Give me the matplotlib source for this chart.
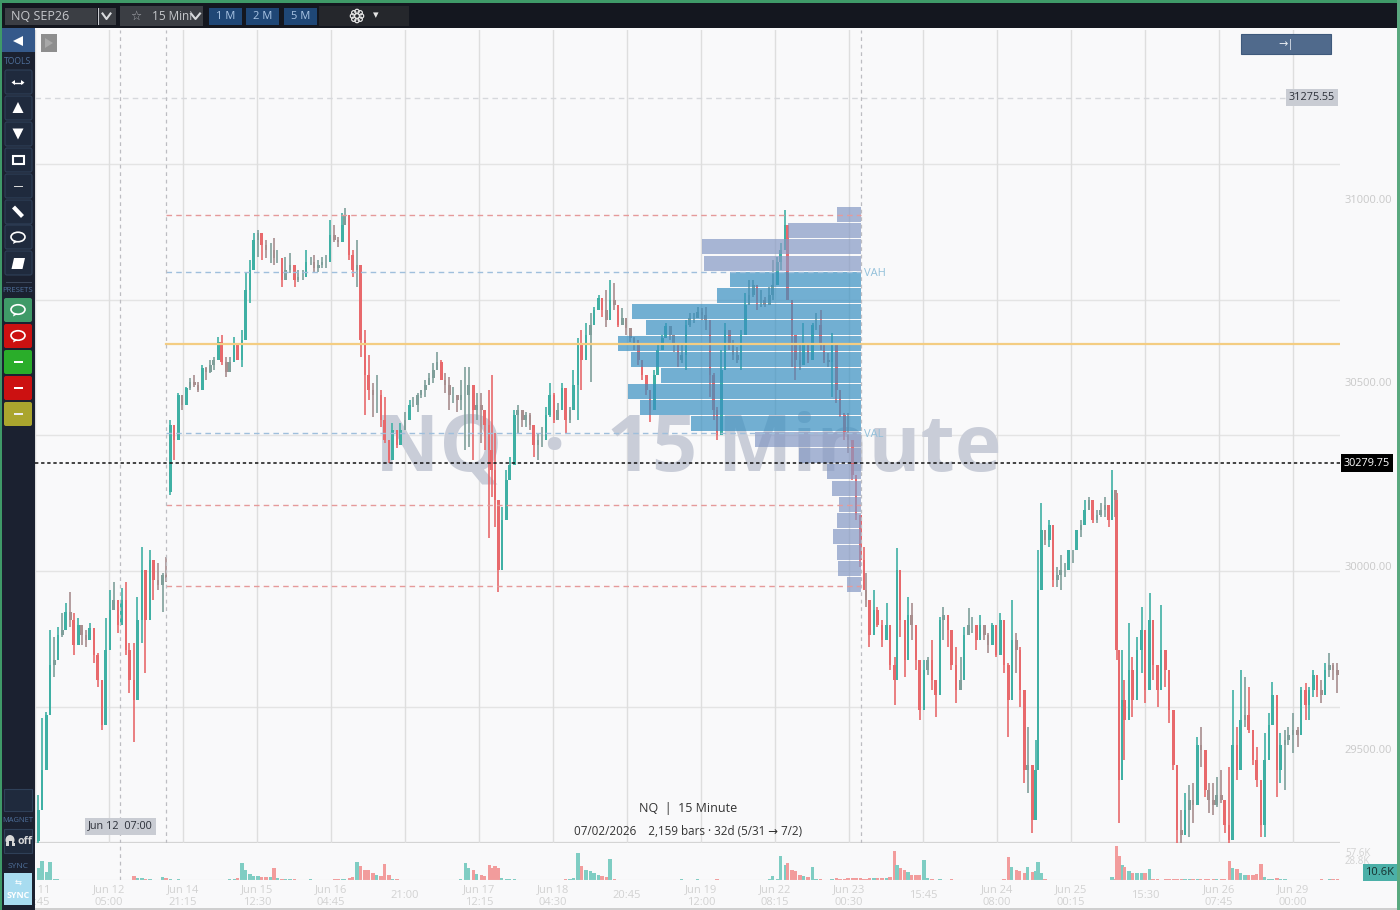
import numpy as np
import matplotlib
matplotlib.use("Agg")
import matplotlib.pyplot as plt
from matplotlib.patches import Rectangle, FancyBboxPatch, Ellipse, Polygon, Circle

plt.rcParams['font.family'] = ['Open Sans', 'DejaVu Sans']

# 15 minute bars, sampled along the chart
bar_no = [3,6,10,13,17,20,24,27,31,34,38,41,45,48,52,55,59,62,66,69,
	73,76,80,83,87,90,94,97,101,104,108,112,115,119,122,126,129,133,136,140,
	143,147,150,154,157,161,164,168,171,175,178,182,185,189,192,196,199,203,207,210,
	213,217,220,224,228,231,235,238,242,245,249,252,256,259,263,266,270,272,276,279,
	283,286,290,293,297,300,304,307,311,314,318,321,325,329,332,336,339,343,346,350,
	353,357,360,364,367,371,374,378,381,385,388,392,395,399,401,404,407,410,414,417,
	421,424,428,431,435,438,442,445,449,452,456,459,463,466,470,473,477,480,484,488,
	491,495,498,502,505,509,512,516,519,523,526,530,533,537,540,544,547,551,554,558,
	561,565,568,572,575,579,582,586,589,593,596,599,603,606,610,613,617,620,624,627,
	631,634,638,641,645,648,652,655,659,661,665,668,672,675,679,683,686,690,693,697,
	700,704,707,711,714,718,721,725,728,730,733,737,740,744,748,751,755,757,760,764,
	767,770,774,777,781,784,788,791,795,798,802,805,809,813,816,820,823,827,830,834,
	837,841,844,848,851,855,858,862,865,869,872,876,879,881,884,887,891,894,898,901,
	905,908,912,915,919,922,926,929,933,936,940,943,946,949,950,952,955,957,961,964,
	968,972,975,979,982,986,989,993,996,1000,1003,1007,1010,1014,1017,1021,1024,1028,1031,1035,
	1038,1042,1045,1049,1052,1056,1059,1063,1066,1070,1073,1077,1080,1084,1087,1091,1094,1098,1101,1105,
	1109,1112,1116,1119,1123,1126,1130,1133,1137,1140,1144]

closes = [29335,29444,29593,29730,29743,29811,29825,29874,29852,29784,29839,29811,29798,29831,29757,29689,29566,29771,29880,29907,
	29839,29907,29771,29689,29634,29852,29989,29852,30016,29961,29948,29975,29967,30384,30343,30466,30438,30485,30501,30493,
	30479,30539,30528,30547,30561,30610,30556,30528,30556,30602,30561,30616,30752,30806,30888,30907,30875,30861,30861,30839,
	30839,30779,30806,30820,30779,30787,30787,30828,30828,30812,30820,30828,30828,30902,30888,30883,30929,30956,30847,30806,
	30820,30616,30520,30479,30466,30466,30398,30343,30289,30370,30329,30370,30398,30438,30438,30466,30479,30493,30512,30534,
	30556,30507,30493,30466,30466,30452,30466,30466,30493,30425,30438,30425,30384,30316,30261,30180,29989,30125,30234,30275,
	30411,30425,30398,30411,30384,30329,30343,30343,30411,30466,30398,30425,30485,30398,30425,30493,30602,30561,30629,30657,
	30697,30730,30697,30670,30725,30711,30657,30676,30648,30621,30602,30561,30520,30479,30425,30520,30588,30621,30654,30629,
	30602,30561,30575,30657,30676,30676,30692,30684,30670,30520,30425,30357,30534,30643,30602,30575,30561,30629,30711,30738,
	30766,30725,30725,30711,30738,30766,30828,30861,30929,30725,30629,30561,30547,30602,30561,30657,30657,30602,30561,30556,
	30602,30479,30411,30365,30343,30248,30139,30016,29934,29907,29811,29880,29839,29798,29839,29730,29689,29989,29852,29743,
	29866,29839,29743,29607,29716,29743,29689,29648,29852,29866,29825,29730,29662,29689,29811,29839,29839,29798,29839,29811,
	29784,29839,29757,29852,29730,29634,29798,29771,29662,29444,29457,29307,29444,29934,30098,30070,30111,29961,29975,29989,
	29989,30043,30043,30098,30111,30152,30180,30125,30139,30152,30166,30125,30207,30180,29771,29416,29634,29580,29716,29634,
	29771,29825,29662,29852,29730,29662,29771,29716,29607,29457,29280,29266,29335,29362,29348,29512,29498,29389,29362,29348,
	29375,29362,29294,29253,29512,29444,29580,29593,29553,29471,29416,29294,29471,29566,29648,29444,29512,29525,29539,29553,
	29539,29662,29621,29662,29703,29662,29648,29716,29730,29716,29703]

highs = [29375,29585,29602,29825,29806,29833,29871,29899,29929,29871,29858,29839,29825,29844,29806,29762,29662,29858,29934,29956,
	29907,29940,29956,29790,29790,29915,30052,29961,30043,30016,30008,29980,30024,30398,30370,30471,30460,30488,30512,30520,
	30501,30548,30542,30561,30569,30624,30629,30569,30569,30624,30607,30643,30801,30834,30907,30916,30894,30888,30880,30894,
	30861,30826,30842,30853,30806,30806,30806,30861,30842,30847,30834,30842,30847,30943,30929,30896,30962,30975,30956,30861,
	30888,30717,30643,30575,30498,30520,30479,30460,30324,30389,30370,30389,30419,30452,30460,30471,30479,30507,30526,30553,
	30583,30561,30526,30515,30488,30452,30507,30542,30542,30471,30471,30471,30417,30479,30520,30362,30070,30160,30261,30297,
	30425,30439,30419,30419,30417,30378,30362,30378,30433,30498,30471,30444,30498,30471,30433,30534,30621,30643,30662,30689,
	30706,30738,30717,30752,30779,30771,30697,30703,30665,30643,30624,30616,30542,30507,30458,30534,30607,30629,30662,30651,
	30624,30580,30607,30670,30689,30689,30706,30703,30706,30624,30526,30433,30588,30662,30635,30616,30597,30643,30744,30779,
	30779,30752,30752,30733,30760,30834,30842,30880,30970,30929,30678,30597,30607,30662,30607,30662,30689,30697,30588,30580,
	30635,30561,30460,30417,30417,30324,30215,30106,30052,29980,29861,29934,29888,29852,29899,29779,29751,30049,29934,29817,
	29915,29899,29752,29642,29743,29752,29798,29689,29861,29888,29852,29825,29779,29751,29833,29885,29861,29825,29866,29833,
	29817,29844,29798,29871,29844,29735,29907,29817,29779,29572,29561,29444,29525,30043,30171,30090,30125,30098,29997,30030,
	30008,30043,30043,30098,30125,30180,30188,30180,30152,30171,30188,30160,30261,30207,30199,29697,29771,29689,29844,29751,
	29806,29888,29689,29926,29779,29670,29893,29771,29670,29517,29343,29335,29381,29403,29408,29533,29561,29471,29408,29408,
	29425,29444,29343,29452,29662,29561,29716,29697,29670,29544,29506,29381,29544,29599,29683,29561,29544,29553,29561,29599,
	29561,29670,29681,29670,29716,29697,29689,29735,29762,29735,29735]

lows = [29230,29353,29457,29634,29697,29779,29806,29825,29833,29757,29790,29784,29779,29798,29735,29670,29553,29662,29771,29893,
	29817,29880,29757,29653,29520,29648,29790,29708,29948,29907,29934,29874,29956,30193,30289,30343,30425,30444,30479,30488,
	30474,30512,30507,30526,30534,30569,30547,30515,30542,30569,30561,30542,30678,30717,30828,30842,30834,30839,30826,30820,
	30826,30760,30798,30798,30760,30774,30779,30787,30820,30798,30801,30812,30812,30861,30883,30869,30896,30932,30834,30787,
	30760,30569,30411,30452,30406,30417,30378,30335,30280,30316,30321,30335,30370,30419,30433,30419,30458,30460,30498,30498,
	30542,30507,30471,30425,30444,30419,30425,30316,30324,30289,30398,30335,30316,30076,30188,30106,29929,30098,30199,30261,
	30362,30362,30378,30378,30370,30297,30289,30324,30351,30406,30389,30398,30433,30362,30389,30425,30398,30479,30602,30501,
	30662,30697,30678,30651,30706,30697,30651,30665,30629,30610,30588,30547,30507,30466,30392,30474,30534,30597,30624,30616,
	30583,30542,30553,30534,30651,30662,30678,30670,30643,30460,30398,30343,30507,30616,30588,30561,30553,30534,30662,30717,
	30733,30697,30706,30706,30717,30725,30806,30806,30896,30725,30542,30507,30534,30588,30553,30569,30643,30588,30553,30542,
	30460,30444,30406,30343,30308,30234,30125,29997,29934,29888,29779,29861,29833,29779,29811,29716,29621,29934,29806,29697,
	29833,29798,29716,29580,29642,29702,29662,29588,29743,29798,29779,29716,29626,29662,29779,29811,29817,29771,29798,29798,
	29762,29798,29752,29779,29708,29533,29697,29708,29615,29408,29381,29272,29370,29533,30057,30057,30051,29942,29942,29934,
	29970,29997,30008,30051,30079,30117,30152,30117,30117,30133,30133,30106,30125,30133,29743,29299,29561,29471,29653,29588,
	29681,29708,29626,29743,29689,29615,29670,29670,29572,29444,29244,29235,29280,29261,29299,29444,29452,29370,29326,29321,
	29343,29354,29272,29235,29498,29416,29498,29561,29544,29457,29397,29261,29261,29553,29634,29370,29408,29389,29512,29490,
	29506,29572,29580,29580,29642,29642,29626,29697,29697,29689,29653]

# volume in thousands
volumes = [20,32,14,31,2,1,0.5,0.4,0.5,0.6,0.4,0.3,0.5,0.4,0.6,0.5,0.4,0.3,0.6,0.5,
	0.5,0.4,0.6,0.7,7,4,3,2,1,0.6,0.5,5,3,1,0.6,2,0.6,0.5,0.4,0.5,
	0.4,0.5,0.4,0.5,0.4,0.5,0.6,0.8,1.5,2,3,29,17,11,7,7,5,5,5,20,
	3,1.5,1,1.5,1,0.6,0.7,0.8,0.9,0.7,0.8,0.6,0.7,0.8,0.9,0.9,1,1,3,5,
	31,24,17,17,12,8,7,27,8,2,1,0.8,0.7,0.6,0.5,0.6,0.5,0.6,0.5,0.7,
	0.6,0.5,0.6,0.5,0.7,0.8,1,29,20,17,10,8,7,25,20,24,20,3,2,1,
	2,0.7,0.6,0.5,0.5,0.6,0.5,0.5,0.6,0.5,0.6,0.7,0.8,1,1.5,3,46,24,17,15,
	12,8,7,5,36,1.5,0.6,0.5,0.5,0.5,0.5,0.4,0.5,0.5,0.6,0.5,0.5,0.4,0.5,0.5,
	0.6,0.8,1,0.7,0.6,0.7,1.2,0.8,0.7,0.6,0.7,1.5,0.8,0.6,0.7,0.5,0.6,0.5,0.6,0.7,
	0.6,0.5,0.6,0.7,1.5,7,2,41,26,29,17,15,8,7,5,22,2,1,0.7,0.8,
	2,3,2.5,2,3,3.5,4,3,2.5,2.5,3,3,3,3,4,5,49,26,20,17,
	13,9,8,8,34,3,1,0.8,1,0.7,0.6,2,0.7,0.6,0.5,0.6,0.5,0.6,0.5,0.6,
	0.5,0.6,0.7,0.8,1.5,39,22,17,15,12,22,14,15,30,12,2,0.8,0.7,0.6,0.7,
	0.5,0.6,0.5,0.6,0.5,0.6,0.7,0.6,0.5,0.7,0.6,0.8,5,1,58,40,25,22,15,12,
	12,12,12,19,2,1,0.8,1.5,2.5,2.5,2,2.5,2,2.5,2,2.5,2,2,1.5,1.5,
	1.5,1.2,1.5,32,20,19,12,8,8,8,10,27,5,2,1,4,2.5,1,0.8,0.7,
	0.6,0.8,0.7,0.8,0.7,0.6,1,0.8,1.2,1,0.9]
first_open = 29250
# bars that opened away from the last close (weekend gap)
gap_bar = 119
gap_open = 30200

tick_bars = [0,65,130,195,260,325,390,455,520,585,650,715,780,845,910,975,1040,1105]
tick_labels = ["Jun 11\n12:45","Jun 12\n05:00","Jun 14\n21:15","Jun 15\n12:30","Jun 16\n04:45","21:00",
	"Jun 17\n12:15","Jun 18\n04:30","20:45","Jun 19\n12:00","Jun 22\n08:15","Jun 23\n00:30","15:45",
	"Jun 24\n08:00","Jun 25\n00:15","15:30","Jun 26\n07:45","Jun 29\n00:00"]
price_ticks = [29500,30000,30500,31000]
grid_prices = [31095,30725,30357,29986,29615]

# volume profile
profile_price = [30958,30914,30871,30824,30781,30737,30693,30650,30606,30563,30519,30475,
	30432,30388,30344,30301,30256,30211,30167,30124,30080,30036,29993,29949]
profile_vol = [24,73,159,157,131,144,229,215,243,230,200,233,221,170,106,62,34,29,22,24,28,24,23,14]
profile_in_va = [0,0,0,0,1,1,1,1,1,1,1,1,1,1,0,0,0,0,0,0,0,0,0,0]

pdh, pdl, swing_low = 30956, 30166, 29945
vah, val, poc = 30801, 30362, 30605
last_price = 30279.75
alert_price = 31275.55
session_bars = [75, 115, 725.6]

# ---- layout
fig = plt.figure(figsize=(14,9.1), dpi=100, facecolor="#f9f9fa")
def px_axes(x0,y0,x1,y1,**kw):
	return fig.add_axes([x0/1400,1-y1/910,(x1-x0)/1400,(y1-y0)/910],**kw)

x_max = 1146.3
ax = px_axes(35,30,1340,843,facecolor="none",zorder=2)
ax.set_xlim(0,x_max)
ax.set_ylim(29244,31460)
for s in ax.spines.values():
	s.set_visible(False)
ax.yaxis.tick_right()
ax.set_yticks(price_ticks)
ax.set_yticklabels(["%.2f"%p for p in price_ticks])
ax.tick_params(axis="y",length=0,pad=3.5,labelsize=8,labelcolor="#c9c9c9")
ax.set_xticks(tick_bars)
ax.tick_params(axis="x",length=0,labelbottom=False)
ax.grid(axis="x",color="#dedede",lw=1)
ax.set_axisbelow(True)
for p in grid_prices:
	ax.axhline(p,color="#e4e4e4",lw=1,zorder=0.5)
ax.axhline(29244,color="#d4d4d4",lw=1.6,zorder=0.5)

ax.text(573.6,30316,"NQ  ·  15 Minute",ha="center",va="center",fontsize=57,fontweight="bold",
	color="#c9cdd8",zorder=0.8)

# candles
bar_no = np.array(bar_no)
closes = np.array(closes,dtype=float)
highs = np.array(highs,dtype=float)
lows = np.array(lows,dtype=float)
opens = np.r_[first_open,closes[:-1]]
opens[bar_no==gap_bar] = gap_open
up = closes>=opens
small = np.abs(closes-opens)<30
colors = np.where(up,"#3fb0a4","#e8696c")
colors = np.where(small&up,"#7f9f9a",colors)
colors = np.where(small&~up,"#a88e8e",colors)
ax.vlines(bar_no,lows,highs,colors=colors,lw=1.2,zorder=3)
ax.bar(bar_no,np.abs(closes-opens),bottom=np.minimum(opens,closes),width=2.2,color=colors,lw=0,zorder=3)

# profile sits on top of the candles
ax_prof = ax.twiny()
ax_prof.set_xlim(826,-479)
ax_prof.axis("off")
pcolors = ["#3990c1" if v else "#8599c4" for v in profile_in_va]
ax_prof.barh(profile_price,profile_vol,height=41,color=pcolors,alpha=0.7,lw=0)

# levels on top of everything
ax_top = ax.twiny()
ax_top.set_xlim(0,x_max)
ax_top.axis("off")
for p in (pdh,pdl,swing_low):
	ax_top.plot([115,725.6],[p,p],color="#e59a9a",lw=1,ls=(0,(4,3)))
for p in (vah,val):
	ax_top.plot([115,725.6],[p,p],color="#9fbfdc",lw=1,ls=(0,(4,3)))
ax_top.plot([115,x_max],[poc,poc],color="#f4cd82",lw=1.6)
ax_top.axhline(last_price,color="#111111",lw=1.1,ls=(0,(2.2,1.8)))
ax_top.plot([0,1102],[alert_price,alert_price],color="#d6d8dc",lw=1,ls=(0,(4,3)))
for b in session_bars:
	ax_top.axvline(b,color="#bdbdc2",lw=0.9,ls=(0,(3,3)))

ax_top.text(728.5,vah-5,"VAH",fontsize=8,color="#92c0da",va="center")
ax_top.text(728.5,val-5,"VAL",fontsize=8,color="#92c0da",va="center")
ax_top.text(1149.5,last_price,"%.2f"%last_price,fontsize=7.8,color="white",va="center",ha="left",clip_on=False,
	bbox=dict(boxstyle="square,pad=0.28",fc="black",ec="none"))
ax_top.text(1121.7,alert_price,"%.2f"%alert_price,fontsize=7.8,color="#2b2f38",va="center",ha="center",
	bbox=dict(boxstyle="square,pad=0.28",fc="#c9ccd3",ec="none"))
ax_top.text(75,29290,"Jun 12  07:00",fontsize=7.8,color="#2b2f38",va="center",ha="center",
	bbox=dict(boxstyle="square,pad=0.28",fc="#c9ccd3",ec="none"))
ax_top.text(573.3,29337,"NQ  |  15 Minute",fontsize=9,color="#333333",va="center",ha="center")
ax_top.text(573.3,29275,"07/02/2026    2,159 bars · 32d (5/31 → 7/2)",fontsize=8.4,color="#333333",va="center",ha="center")

# volume pane
ax_vol = px_axes(35,845,1340,880,facecolor="none",zorder=2)
ax_vol.set_xlim(0,x_max)
ax_vol.set_ylim(0,59.3)
for s in ax_vol.spines.values():
	s.set_visible(False)
ax_vol.set_yticks([])
vcolors = np.where(up,"#7fcdc3","#f29c9c")
ax_vol.bar(bar_no,volumes,width=3.0,color=vcolors,lw=0)
ax_vol.axhline(0.2,color="#dddddd",lw=0.8)
ax_vol.axvline(session_bars[0],color="#bdbdc2",lw=0.9,ls=(0,(3,3)))
ax_vol.set_xticks(tick_bars)
ax_vol.set_xticklabels(tick_labels,linespacing=1.3)
ax_vol.tick_params(axis="x",length=0,pad=11.4,labelsize=8,labelcolor="#d2d2d2")
for t in ax_vol.get_xticklabels():
	t.set_verticalalignment("center")

# ---- app chrome, pixel coordinates
bg = px_axes(0,0,1400,910,zorder=5)
bg.set_xlim(0,1400)
bg.set_ylim(910,0)
bg.axis("off")

def box(x0,y0,x1,y1,fc,ec="none",lw=0.8,rounded=False,alpha=None):
	if rounded:
		p = FancyBboxPatch((x0+1,y0+1),x1-x0-2,y1-y0-2,boxstyle="round,pad=1,rounding_size=2",fc=fc,ec=ec,lw=lw,alpha=alpha)
	else:
		p = Rectangle((x0,y0),x1-x0,y1-y0,fc=fc,ec=ec,lw=lw,alpha=alpha)
	bg.add_patch(p)

def label(x,y,s,size=8,color="white",**kw):
	bg.text(x,y,s,fontsize=size,color=color,ha=kw.pop("ha","center"),va="center",**kw)

def bubble(cx,cy,color="white"):
	bg.add_patch(Ellipse((cx,cy-0.5),14,9.5,fc="none",ec=color,lw=1.2))
	bg.add_patch(Polygon([[cx-4,cy+3],[cx-5,cy+6.5],[cx,cy+4]],fc=color,ec="none"))

# frame
box(0,0,1400,2.5,"#3f9a68")
box(0,2.5,1400,28,"#14171f")
box(0,0,2,910,"#3f9a68")
box(1397,0,1400,910,"#5aa97f")
box(2,28,35,910,"#1b2130")
box(35,907.5,1397,910,"#cfcfcf")

# top bar
box(5,8,97,25,"#3b3e44")
label(11,16.5,"NQ SEP26",size=9,color="#c6c8cc",ha="left")
box(97.5,8,99,25,"#c9cbd0")
box(99,8,116,25,"#3b3e44")
bg.plot([102.5,106.5,110.5],[13.5,19,13.5],color="#d8dadd",lw=1.5)
box(120,5.5,203,26,"#3b3e44")
label(136,16,"☆",size=9,color="#a8aab0")
label(152,16,"15 Mini",size=8.5,color="#c6c8cc",ha="left")
box(187,5.5,203,26,"#3b3e44")
bg.plot([191,195.5,200],[13.5,19,13.5],color="#d8dadd",lw=1.5)
for x0,x1,s in ((209,242,"1 M"),(246,279,"2 M"),(284,317,"5 M")):
	box(x0,8,x1,25,"#1f4776")
	label((x0+x1)/2,16.5,s,size=8,color="#a9c4e4")
box(319,5.5,409,26,"#25272c")
for a in np.arange(0,360,45):
	bg.add_patch(Circle((357+4.5*np.cos(np.radians(a)),16+4.5*np.sin(np.radians(a))),2.2,fc="none",ec="#e4e4e4",lw=0.9))
label(376,15.5,"▾",size=8,color="#e4e4e4")

# side bar
box(2,28,35,52,"#35598a")
bg.add_patch(Polygon([[13,41],[23,36],[23,46]],fc="white",ec="none"))
label(18,61,"TOOLS",size=6.2,color="#4f709c")
for cy in (82,108,134,160,186,212,237,263):
	box(5,cy-12,32,cy+12,"#1f2a3d",ec="#2f4058",rounded=True)
bg.plot([14,22],[82.5,82.5],color="white",lw=1)
bg.add_patch(Polygon([[11.5,82.5],[15,80],[15,85]],fc="white",ec="none"))
bg.add_patch(Polygon([[24.5,82.5],[21,80],[21,85]],fc="white",ec="none"))
bg.add_patch(Polygon([[18,102],[23.5,113],[12.5,113]],fc="white",ec="none"))
bg.add_patch(Polygon([[18,139.5],[23.5,128.5],[12.5,128.5]],fc="white",ec="none"))
box(13,156,24,164,"none",ec="white",lw=1.5)
box(14,185.5,23,187,"#d8d8d8")
bg.plot([13.5,22.5],[207,216.5],color="white",lw=3,solid_capstyle="butt")
bubble(18,237.5)
bg.add_patch(Polygon([[14,258],[25,258],[22.5,269],[11.5,269]],fc="white",ec="none"))
box(6,282,32,283,"#3a465a")
label(18,291,"PRESETS",size=5.6,color="#4f709c")
box(4,298,32,322,"#3f9a68",rounded=True)
bubble(18,310)
box(4,324,32,348,"#cc1111",rounded=True)
bubble(18,336)
for cy,c,lc in ((362,"#2aad2a","white"),(388,"#cc1111","white"),(414,"#aaa52e","#ececec")):
	box(4,cy-12,32,cy+12,c,rounded=True)
	box(14,cy-0.8,23,cy+0.8,lc)
box(4,789,32,811,"#1f2a3d",ec="#2f4058")
label(18,821,"MAGNET",size=5.4,color="#4f709c")
box(4,829,32,853,"#1f2a3d",ec="#2f4058")
bg.add_patch(Ellipse((10,840),9,10,fc="#d8d8d8",ec="none"))
box(8.5,841,11.5,846,"#1f2a3d")
box(5.5,843,8.5,846,"#d8d8d8")
box(11.5,843,14.5,846,"#d8d8d8")
label(24.5,841,"off",size=7.6,color="#d8d8d8",fontweight="bold")
label(18,866,"SYNC",size=6,color="#4f709c")
box(4,873,32,905,"#a8dcf0")
label(18,883,"⇆",size=6)
label(18,896,"SYNC",size=6.4,fontweight="bold")

# floating buttons
box(41,34,57,52,"#8e8e8e")
bg.add_patch(Polygon([[45,38],[53,43],[45,48]],fc="#a8a8a8",ec="none"))
box(1241,34,1331,54,"#506a8c",ec="#3f5a7c")
label(1286,44.5,"→|",size=8,color="#e8edf3")

# volume scale labels
label(1345,854,"57.6K",size=7,color="#d2d2d2",ha="left")
label(1345,862,"28.8K",size=7,color="#d2d2d2",ha="left")
box(1363,864,1397,881,"#4bb0a8")
label(1380,872.5,"10.6K",size=8,color="#16302e")

fig.savefig("out.png",dpi=100,facecolor=fig.get_facecolor())
